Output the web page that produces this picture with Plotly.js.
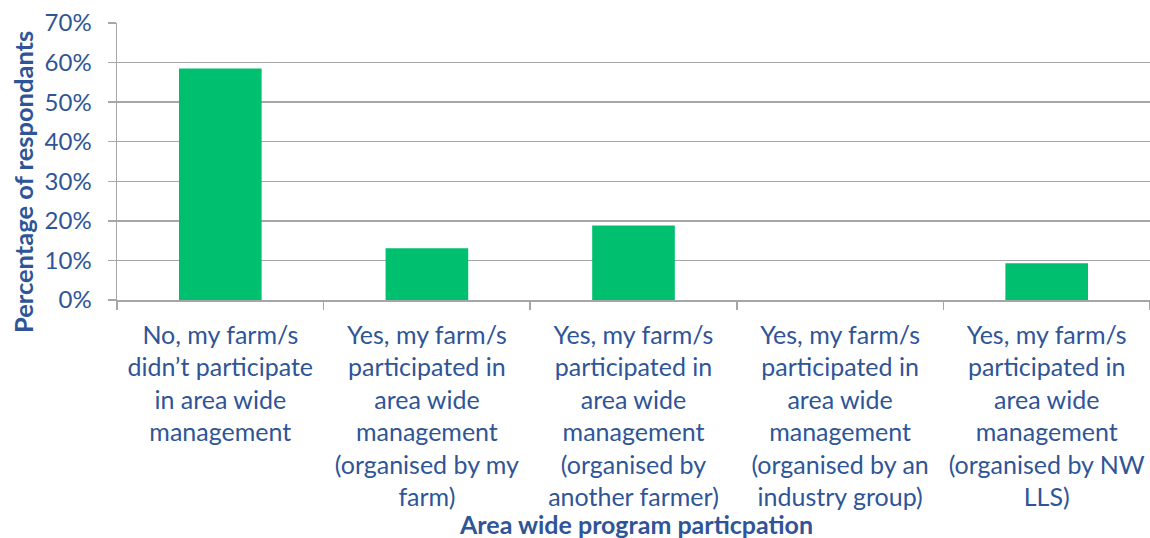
<!DOCTYPE html>
<html>
<head>
<meta charset="utf-8">
<script src="https://cdn.plot.ly/plotly-3.0.1.min.js"></script>
<style>html,body{margin:0;padding:0;background:#fff}#chart{width:1150px;height:538px}</style>
</head>
<body>
<div id="chart"></div>
<script>
const categories = [
  "No, my farm/s<br>didn’t participate<br>in area wide<br>management",
  "Yes, my farm/s<br>participated in<br>area wide<br>management<br>(organised by my<br>farm)",
  "Yes, my farm/s<br>participated in<br>area wide<br>management<br>(organised by<br>another farmer)",
  "Yes, my farm/s<br>participated in<br>area wide<br>management<br>(organised by an<br>industry group)",
  "Yes, my farm/s<br>participated in<br>area wide<br>management<br>(organised by NW<br>LLS)"
];
const percentages = [0.585, 0.131, 0.188, 0, 0.093];
const yTickValues = [0, 0.1, 0.2, 0.3, 0.4, 0.5, 0.6, 0.7];
const yTickLabels = ["0%", "10%", "20%", "30%", "40%", "50%", "60%", "70%"];
const xTitle = "Area wide program particpation";
const yTitle = "Percentage of respondants";

const textColor = "#2F5597";
const fontFam = "Lato, 'Open Sans', sans-serif";

const trace = {
  type: "bar",
  x: categories,
  y: percentages,
  marker: {color: "#00BF6F", line: {width: 0}},
  width: 0.4,
  hoverinfo: "none"
};

const layout = {
  width: 1150, height: 538,
  margin: {l: 117, r: 0, t: 23, b: 238},
  paper_bgcolor: "#fff", plot_bgcolor: "#fff",
  showlegend: false,
  font: {family: fontFam, color: textColor, size: 25},
  xaxis: {
    type: "category",
    showline: true, linecolor: "#A6A6A6", linewidth: 1.5,
    ticks: "outside", tickson: "boundaries", ticklen: 8, tickcolor: "#A6A6A6", tickwidth: 1.5,
    ticklabelstandoff: 12,
    tickfont: {family: fontFam, color: textColor, size: 25},
    showgrid: false, automargin: false, fixedrange: true
  },
  yaxis: {
    range: [0, 0.7],
    tickvals: yTickValues, ticktext: yTickLabels,
    showline: true, linecolor: "#A6A6A6", linewidth: 1.5,
    ticks: "outside", ticklen: 8, tickcolor: "#A6A6A6", tickwidth: 1.5,
    ticklabelstandoff: 11,
    showgrid: true, gridcolor: "#A6A6A6", gridwidth: 1.5,
    zeroline: false,
    tickfont: {family: fontFam, color: textColor, size: 24},
    automargin: false, fixedrange: true
  },
  annotations: [
    {text: "<b>" + xTitle + "</b>", xref: "paper", yref: "paper", x: (636 - 117) / 1033, y: (300 - 524) / 277, xanchor: "center", yanchor: "middle", showarrow: false, font: {family: fontFam, color: textColor, size: 25}},
    {text: "<b>" + yTitle + "</b>", xref: "paper", yref: "paper", x: (23 - 117) / 1033, y: (300 - 182) / 277, xanchor: "center", yanchor: "middle", textangle: -90, showarrow: false, font: {family: fontFam, color: textColor, size: 25.5}}
  ]
};

Plotly.newPlot("chart", [trace], layout, {staticPlot: true, displayModeBar: false});
</script>
</body>
</html>
